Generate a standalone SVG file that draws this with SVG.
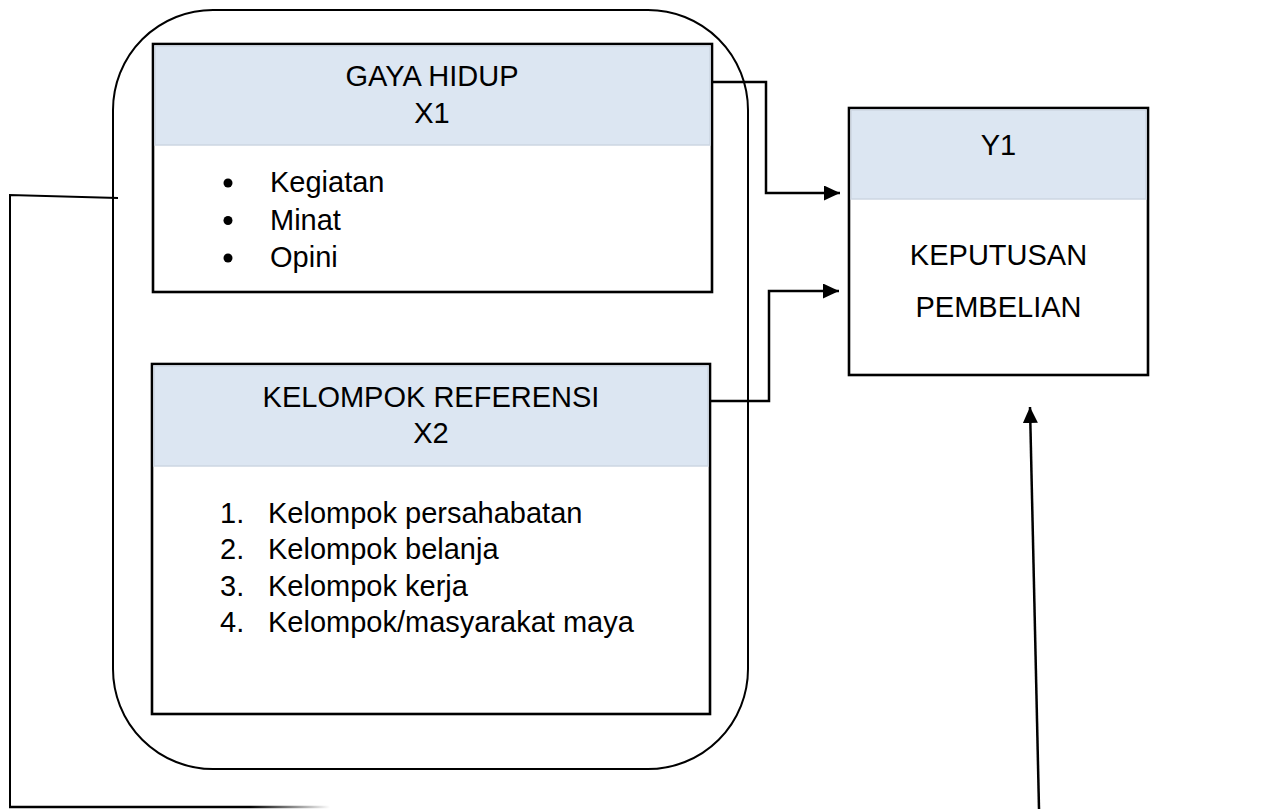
<svg xmlns="http://www.w3.org/2000/svg" width="1265" height="809" viewBox="0 0 1265 809">
  <defs>
    <style>
      .frame { fill: none; stroke: #000; stroke-width: 2; }
      .box { fill: #fff; stroke: #000; stroke-width: 2.6; }
      .head { fill: #dce6f2; stroke: #cdd6e2; stroke-width: 1.5; }
      .txt { font-family: "Liberation Sans", Arial, sans-serif; font-size: 29px; fill: #000; }
      .mid { text-anchor: middle; }
      .wire { fill: none; stroke: #000; stroke-width: 2.5; }
      .thin { fill: none; stroke: #000; stroke-width: 2; }
    </style>
    <marker id="arrow" markerUnits="userSpaceOnUse" markerWidth="17" markerHeight="16" refX="16" refY="7.5" orient="auto">
      <path d="M0,0 L16,7.5 L0,15 Z" fill="#000"/>
    </marker>
    <linearGradient id="fadeOut" gradientUnits="userSpaceOnUse" x1="10" y1="0" x2="330" y2="0">
      <stop offset="0" stop-color="#000"/>
      <stop offset="0.75" stop-color="#000"/>
      <stop offset="1" stop-color="#000" stop-opacity="0"/>
    </linearGradient>
  </defs>

  <!-- enclosing rounded frame around the two independent variables -->
  <g id="frame">
    <rect class="frame" x="113" y="10" width="635" height="759" rx="100" ry="100"/>
  </g>

  <!-- X1: lifestyle -->
  <g id="x1">
    <rect class="box" x="153" y="44" width="559" height="248"/>
    <rect class="head" x="155" y="46" width="555" height="99"/>
    <text class="txt mid" x="432" y="86">GAYA HIDUP</text>
    <text class="txt mid" x="432" y="123">X1</text>
    <circle cx="228" cy="183" r="4.5"/>
    <circle cx="228" cy="220.5" r="4.5"/>
    <circle cx="228" cy="258" r="4.5"/>
    <text class="txt" x="270" y="192">Kegiatan</text>
    <text class="txt" x="270" y="229.5">Minat</text>
    <text class="txt" x="270" y="267">Opini</text>
  </g>

  <!-- X2: reference groups -->
  <g id="x2">
    <rect class="box" x="152" y="364" width="558" height="350"/>
    <rect class="head" x="154" y="366" width="554" height="100"/>
    <text class="txt mid" x="431" y="407">KELOMPOK REFERENSI</text>
    <text class="txt mid" x="431" y="443">X2</text>
    <text class="txt" x="220" y="523">1.</text>
    <text class="txt" x="268" y="523">Kelompok persahabatan</text>
    <text class="txt" x="220" y="559">2.</text>
    <text class="txt" x="268" y="559">Kelompok belanja</text>
    <text class="txt" x="220" y="596">3.</text>
    <text class="txt" x="268" y="596">Kelompok kerja</text>
    <text class="txt" x="220" y="632">4.</text>
    <text class="txt" x="268" y="632">Kelompok/masyarakat maya</text>
  </g>

  <!-- Y1: purchase decision -->
  <g id="y1">
    <rect class="box" x="849" y="108" width="299" height="267"/>
    <rect class="head" x="851" y="110" width="295" height="89"/>
    <text class="txt mid" x="998.5" y="155">Y1</text>
    <text class="txt mid" x="998.5" y="265">KEPUTUSAN</text>
    <text class="txt mid" x="998.5" y="317">PEMBELIAN</text>
  </g>

  <!-- connectors -->
  <g id="connectors">
    <polyline class="wire" points="712,82 766,82 766,193 840,193" marker-end="url(#arrow)"/>
    <polyline class="wire" points="710,401 769,401 769,291 839,291" marker-end="url(#arrow)"/>
    <line class="wire" x1="1039" y1="809" x2="1030" y2="407" marker-end="url(#arrow)"/>
    <polyline class="thin" points="118,198 10,195 10,807"/>
    <line x1="9" y1="807" x2="330" y2="807" stroke="url(#fadeOut)" stroke-width="2.5"/>
  </g>
</svg>
